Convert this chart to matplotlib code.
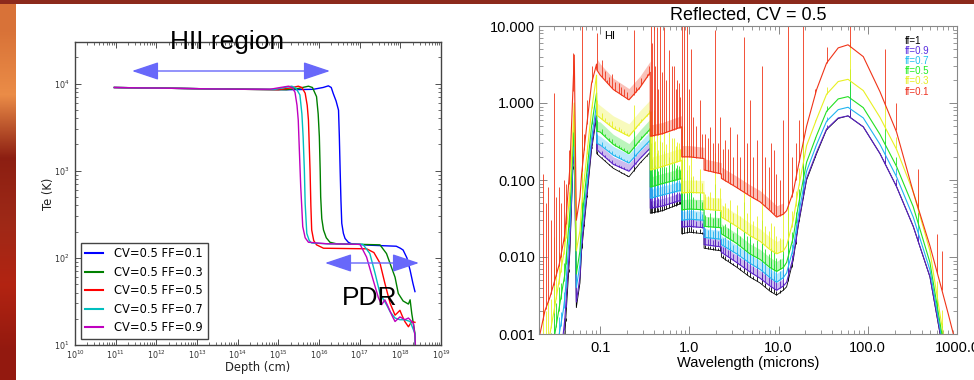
import numpy as np
import matplotlib
matplotlib.use("Agg")
import matplotlib.pyplot as plt
from matplotlib.patches import Rectangle, FancyArrowPatch, ArrowStyle
from matplotlib.ticker import LogLocator, FormatStrFormatter, NullFormatter

# ---------------- left panel: Te vs depth (CV=0.5) ----------------
ff01_depth = [9.3e10, 3.2e12, 1e14, 2.0e15, 7.2e15, 1.26e16, 1.7e16, 2.0e16, 2.24e16, 2.63e16,
              3.02e16, 3.16e16, 3.31e16, 3.47e16, 3.63e16, 3.98e16, 4.37e16, 5.25e16, 6.31e16,
              1.58e17, 7.94e17, 1e18, 1.17e18, 1.45e18, 1.74e18, 2.04e18, 2.29e18]
ff01_te = [9016, 8810, 8610, 8510, 8590, 9016, 9419, 9016, 7690, 6310,
           4955, 2512, 1016, 447, 249, 191, 167, 151, 145,
           140, 136, 129, 123, 100, 72, 51, 41]

ff03_depth = [9.3e10, 3.2e12, 1e14, 1.58e15, 3.16e15, 5.5e15, 6.9e15, 8.7e15, 9.55e15, 1.02e16,
              1.07e16, 1.10e16, 1.17e16, 1.29e16, 1.51e16, 1.86e16, 2.69e16, 1e17, 3.16e17,
              4.57e17, 7.41e17, 8.91e17, 1.17e18, 1.58e18, 1.74e18, 1.91e18, 2.29e18, 2.34e18]
ff03_te = [9016, 8810, 8610, 8510, 8810, 9333, 9016, 7080, 4467, 2455,
           1000, 501, 282, 209, 170, 151, 145, 143, 141,
           112, 60, 39, 32, 29.5, 33, 23, 13.5, 10]

ff05_depth = [9.3e10, 3.2e12, 1e14, 1e15, 2.0e15, 3.09e15, 3.8e15, 4.57e15, 5.13e15, 5.5e15,
              5.75e15, 6.03e15, 6.31e15, 6.61e15, 7.41e15, 8.71e15, 1.29e16, 1.48e17, 2.24e17,
              3.16e17, 4.17e17, 5.62e17, 7.41e17, 8.51e17, 9.77e17, 1.12e18, 1.29e18, 1.58e18,
              1.91e18, 2.29e18]
ff05_te = [9016, 8810, 8610, 8510, 8910, 9333, 9016, 7762, 5623, 3802,
           1995, 1000, 398, 209, 158, 141, 129, 127, 115,
           87, 51, 30, 22, 23.4, 25, 21.4, 18.6, 16.2,
           18.6, 18.2]

ff07_depth = [9.3e10, 3.2e12, 1e14, 7.9e14, 1.41e15, 2.14e15, 2.69e15, 3.39e15, 3.8e15, 4.07e15,
              4.37e15, 4.57e15, 5.01e15, 5.75e15, 6.61e15, 1.58e16, 1.2e17, 1.78e17, 2.4e17,
              3.16e17, 4.57e17, 5.62e17, 7.41e17, 9.77e17, 1.29e18, 1.74e18, 2.29e18, 2.34e18]
ff07_te = [9016, 8810, 8610, 8550, 9016, 9333, 8913, 7413, 4467, 2455,
           1000, 417, 191, 158, 148, 145, 143, 112, 66,
           39, 29, 24, 20.4, 19.5, 19.5, 18.6, 13.5, 9.5]

ff09_depth = [9.3e10, 3.2e12, 1e14, 6.3e14, 1.12e15, 1.78e15, 2.19e15, 2.57e15, 2.88e15, 3.09e15,
              3.31e15, 3.55e15, 3.8e15, 3.98e15, 4.57e15, 5.5e15, 1.58e16, 1.02e17, 1.48e17,
              2.14e17, 2.88e17, 3.47e17, 4.17e17, 5.01e17, 6.17e17, 7.41e17, 9.77e17, 1.29e18,
              1.58e18, 2.09e18, 2.29e18, 2.34e18]
ff09_te = [9016, 8810, 8610, 8610, 9016, 9333, 9016, 7943, 5623, 3802,
           1585, 661, 355, 229, 170, 151, 145, 143, 102,
           56, 35, 29, 33, 27.5, 22, 18.6, 21, 19.5,
           20.4, 17.8, 12.6, 10]

te_labels = ["CV=0.5 FF=0.1", "CV=0.5 FF=0.3", "CV=0.5 FF=0.5", "CV=0.5 FF=0.7", "CV=0.5 FF=0.9"]

# ---------------- right panel: reflected spectra ----------------
wl_grid = [0.020, 0.0211, 0.024, 0.0273, 0.031, 0.0347, 0.0385, 0.0402, 0.0458, 0.0512,
           0.054, 0.0593, 0.0619, 0.0705, 0.080, 0.0910, 0.0915, 0.10, 0.14, 0.21,
           0.28, 0.364, 0.3645, 0.50, 0.82, 0.8205, 1.0, 1.46, 1.4605, 2.28,
           2.285, 3.38, 4.76, 6.2, 8.0, 9.5, 11.3, 12.3, 14.6, 16.6,
           20.6, 26.7, 34.5, 46.6, 60, 89, 137, 210, 323, 497,
           645, 800, 1000]

flux_ff1 = [1e-5, 2e-5, 4e-5, 8e-5, 1.5e-4, 3e-4, 6e-4, 1.0e-3, 0.012, 0.45,
            0.0022, 0.0046, 0.012, 0.055, 0.245, 0.66, 0.22, 0.20, 0.142, 0.11,
            0.166, 0.23, 0.037, 0.040, 0.050, 0.020, 0.021, 0.020, 0.013, 0.012,
            0.010, 0.0074, 0.0055, 0.0046, 0.0036, 0.0032, 0.0037, 0.0041, 0.0091, 0.025,
            0.10, 0.22, 0.45, 0.63, 0.68, 0.49, 0.22, 0.082, 0.025, 0.0055,
            0.001, 0.0002, 3e-5]
flux_ff09 = [1.5e-5, 3e-5, 6e-5, 1.2e-4, 2.5e-4, 5e-4, 1.0e-3, 1.6e-3, 0.016, 0.5,
             0.0026, 0.0055, 0.014, 0.065, 0.28, 0.75, 0.25, 0.225, 0.16, 0.13,
             0.19, 0.26, 0.043, 0.046, 0.055, 0.0245, 0.025, 0.024, 0.0145, 0.0135,
             0.0115, 0.0085, 0.0064, 0.0053, 0.0042, 0.0037, 0.0042, 0.0047, 0.0100, 0.027,
             0.105, 0.23, 0.46, 0.64, 0.68, 0.49, 0.22, 0.082, 0.025, 0.0056,
             0.00105, 0.0002, 3e-5]
flux_ff07 = [3e-5, 5e-5, 1e-4, 2.2e-4, 4.5e-4, 1.0e-3, 2.0e-3, 3.0e-3, 0.025, 0.55,
             0.004, 0.008, 0.02, 0.085, 0.35, 0.95, 0.30, 0.285, 0.21, 0.166,
             0.24, 0.33, 0.058, 0.064, 0.074, 0.030, 0.031, 0.030, 0.018, 0.017,
             0.0145, 0.011, 0.0083, 0.0069, 0.0054, 0.0047, 0.0054, 0.0062, 0.013, 0.034,
             0.13, 0.29, 0.58, 0.82, 0.88, 0.64, 0.29, 0.11, 0.033, 0.0068,
             0.0012, 0.00025, 4e-5]
flux_ff05 = [6e-5, 1e-4, 2e-4, 4.5e-4, 1.0e-3, 2.2e-3, 4.5e-3, 6e-3, 0.04, 0.7,
             0.006, 0.012, 0.028, 0.12, 0.5, 1.35, 0.43, 0.42, 0.29, 0.22,
             0.33, 0.46, 0.081, 0.09, 0.105, 0.041, 0.042, 0.041, 0.025, 0.024,
             0.020, 0.015, 0.011, 0.0093, 0.0073, 0.0065, 0.0073, 0.0085, 0.018, 0.046,
             0.17, 0.38, 0.78, 1.13, 1.21, 0.87, 0.39, 0.15, 0.045, 0.0085,
             0.0014, 0.0003, 5e-5]
flux_ff03 = [1.5e-4, 2.5e-4, 5e-4, 1.0e-3, 2.3e-3, 5e-3, 0.01, 0.014, 0.07, 1.0,
             0.012, 0.022, 0.048, 0.2, 0.8, 2.3, 0.7, 0.64, 0.47, 0.37,
             0.55, 0.76, 0.135, 0.15, 0.18, 0.068, 0.069, 0.068, 0.042, 0.040,
             0.033, 0.025, 0.019, 0.016, 0.0125, 0.011, 0.012, 0.014, 0.03, 0.075,
             0.28, 0.62, 1.3, 1.9, 2.03, 1.45, 0.65, 0.25, 0.07, 0.012,
             0.0018, 0.0004, 8e-5]
flux_ff01 = [8e-4, 1.0e-3, 2e-3, 3e-3, 5e-3, 8e-3, 0.015, 0.02, 0.15, 4.2,
             0.03, 0.06, 0.12, 0.5, 1.8, 3.2, 2.7, 2.3, 1.5, 1.1,
             1.6, 2.5, 0.37, 0.40, 0.49, 0.20, 0.20, 0.19, 0.135, 0.12,
             0.105, 0.08, 0.062, 0.052, 0.04, 0.033, 0.036, 0.04, 0.07, 0.15,
             0.5, 1.5, 3.3, 5.2, 5.7, 4.0, 1.4, 0.42, 0.07, 0.014,
             0.0046, 0.0018, 0.00065]

# emission lines: wavelength (microns) and peak of the ff=0.1 spike
line_um = [0.0228, 0.0245, 0.026, 0.028, 0.030, 0.032, 0.0342, 0.036, 0.0389, 0.041,
           0.0443, 0.047, 0.0494, 0.0624, 0.066, 0.071, 0.076, 0.0807, 0.0918,
           0.1045, 0.112, 0.119, 0.127, 0.135, 0.148, 0.161, 0.172, 0.183, 0.20,
           0.237, 0.25, 0.269, 0.29, 0.307, 0.334, 0.35,
           0.371, 0.385, 0.397, 0.41, 0.432, 0.45, 0.471, 0.49, 0.514, 0.55,
           0.585, 0.63, 0.665, 0.70, 0.73, 0.757, 0.78, 0.824,
           0.86, 0.937, 1.0, 1.04, 1.11, 1.2, 1.32, 1.40, 1.50, 1.6,
           1.71, 1.82, 1.95, 2.08, 2.22, 2.35, 2.52, 2.7, 2.87, 3.1,
           3.41, 3.7, 4.06, 4.4, 4.81, 5.2, 5.71, 6.5, 7.0, 7.72,
           8.2, 8.79, 9.3, 10.4, 11.3, 12.8, 14.0, 15.5, 17.0, 18.9,
           25.9, 34.8, 63.5, 157, 205, 370, 600, 678]
line_peak = [0.12, 0.05, 0.08, 0.03, 1.34, 0.06, 0.082, 0.05, 0.1, 0.09,
             0.245, 0.3, 4.4, 30, 0.4, 1.1, 0.9, 3.0, 8.0,
             3.6, 2.6, 2.0, 2.2, 2.4, 1.9, 1.8, 1.6, 1.5, 1.4,
             8.9, 1.6, 1.6, 2.1, 1.8, 2.4, 3.0,
             30, 6.0, 30, 3.0, 9.8, 1.5, 30, 2.5, 9.8, 2.0,
             4.9, 3.0, 3.0, 1.5, 2.0, 1.8, 1.2, 30,
             30, 10, 1.5, 5.0, 0.66, 0.5, 1.1, 0.4, 0.4, 0.35,
             0.49, 0.3, 8.9, 0.3, 0.66, 0.25, 0.33, 0.25, 0.49, 0.2,
             0.4, 0.2, 7.3, 0.3, 1.1, 0.2, 0.33, 3.0, 0.2, 0.149,
             0.3, 0.245, 0.12, 0.1, 0.6, 30, 0.2, 0.3, 0.6, 30,
             1.5, 5.4, 100, 5.1, 1.0, 0.14, 0.02, 0.012]

ff_labels = ["ff=1", "ff=0.9", "ff=0.7", "ff=0.5", "ff=0.3", "ff=0.1"]

plt.rcParams['font.family'] = ['DejaVu Sans']
fig = plt.figure(figsize=(9.74, 3.8), dpi=100)
fig.patch.set_facecolor("#902818")

# slide background: nebula strip on the left, white page
bg = fig.add_axes([0, 0, 1, 1], zorder=-10)
bg.axis('off')
strip = np.array([[[0.85, 0.45, 0.22]], [[0.92, 0.55, 0.28]], [[0.55, 0.12, 0.07]],
                  [[0.62, 0.16, 0.09]], [[0.70, 0.14, 0.07]], [[0.58, 0.10, 0.06]]])
bg.imshow(strip, extent=(0, 16, 380, 0), aspect='auto', interpolation='bilinear')
bg.add_patch(Rectangle((0, 0), 974, 4, color="#8c2a1c", lw=0))
bg.add_patch(Rectangle((16, 4), 958, 376, color="white", lw=0))
bg.set_xlim(0, 974)
bg.set_ylim(380, 0)

# ---- left axes ----
axl = fig.add_axes([75 / 974, 1 - 345 / 380, 366 / 974, 303 / 380])
te_series = [(ff01_depth, ff01_te, 'b'), (ff03_depth, ff03_te, 'g'), (ff05_depth, ff05_te, 'r'),
             (ff07_depth, ff07_te, 'c'), (ff09_depth, ff09_te, 'm')]
for (d, t, c), lab in zip(te_series, te_labels):
    axl.plot(d, t, color=c, lw=1.0, label=lab)
axl.set_xscale('log')
axl.set_yscale('log')
axl.set_xlim(1e10, 1e19)
axl.set_ylim(10, 3e4)
axl.xaxis.set_major_locator(LogLocator(base=10, numticks=15))
axl.xaxis.set_minor_locator(LogLocator(base=10, subs=np.arange(2, 10), numticks=100))
axl.xaxis.set_minor_formatter(NullFormatter())
axl.tick_params(which='both', direction='in', top=True, right=True, labelsize=5.8, colors='#333')
axl.tick_params(which='major', length=4, width=0.6)
axl.tick_params(which='minor', length=2, width=0.5)
axl.tick_params(axis='x', pad=2.5)
axl.tick_params(axis='y', pad=4)
for sp in axl.spines.values():
    sp.set_color('#444')
    sp.set_linewidth(1.0)
leg = axl.legend(loc='lower left', bbox_to_anchor=(0.016, 0.02), borderaxespad=0, fontsize=8.3,
                 handlelength=1.5, handletextpad=1.0, labelspacing=0.48, borderpad=0.4,
                 fancybox=False, framealpha=1, edgecolor='#444')
leg.get_frame().set_linewidth(1.0)
for h in leg.get_lines():
    h.set_linewidth(1.5)

# ---- right axes ----
axr = fig.add_axes([539 / 974, 1 - 334 / 380, 418 / 974, 308 / 380])
grid = np.array(wl_grid)
lines = np.array(line_um)
spec = [(flux_ff1, 'black', 0.08, 1.0), (flux_ff09, '#5a22c8', 0.2, 1.25),
        (flux_ff07, '#20b4f0', 0.25, 1.3), (flux_ff05, '#22e022', 0.3, 1.35),
        (flux_ff03, '#e8f022', 0.4, 1.45), (flux_ff01, '#f03418', 1.0, 1.4)]
red_base = 10 ** np.interp(np.log10(lines), np.log10(grid), np.log10(flux_ff01))
ratio = np.clip(np.array(line_peak) / red_base, 1, None)
band = (grid >= 0.0915) & (grid <= 11.3)
for flux, c, expo, bw in spec:
    f = np.array(flux)
    base = 10 ** np.interp(np.log10(lines), np.log10(grid), np.log10(f))
    if bw > 1:
        axr.fill_between(grid[band], f[band], f[band] * bw, color=c, alpha=0.3, lw=0)
    axr.vlines(lines, base, base * ratio ** expo, colors=c, lw=0.6)
    axr.plot(grid, f, color=c, lw=0.8 if c != 'black' else 0.6)
axr.set_xscale('log')
axr.set_yscale('log')
axr.set_xlim(0.0206, 1000)
axr.set_ylim(1e-3, 10)
axr.xaxis.set_major_formatter(FormatStrFormatter('%.1f'))
axr.yaxis.set_major_formatter(FormatStrFormatter('%.3f'))
axr.xaxis.set_minor_formatter(NullFormatter())
axr.yaxis.set_minor_formatter(NullFormatter())
axr.tick_params(which='both', direction='in', top=True, right=True, color='#888',
                labelsize=10.5, labelcolor='black')
axr.tick_params(which='major', length=5.5, width=0.7)
axr.tick_params(which='minor', length=2.8, width=0.6)
axr.tick_params(axis='x', pad=5)
axr.tick_params(axis='y', pad=3)
for lab in axr.get_xticklabels() + axr.get_yticklabels():
    lab.set_fontfamily('Liberation Sans')
for sp in axr.spines.values():
    sp.set_color('#888')
    sp.set_linewidth(0.8)

# ---- overlay: annotations in pixel coordinates ----
ov = fig.add_axes([0, 0, 1, 1], zorder=5)
ov.set_xlim(0, 974)
ov.set_ylim(380, 0)
ov.axis('off')
ov.patch.set_alpha(0)

arrow_col = '#6868fa'
for x0, x1, y in [(132, 330, 71), (325, 419, 263)]:
    ov.add_patch(FancyArrowPatch((x0, y), (x1, y),
                                 arrowstyle=ArrowStyle('<|-|>', head_length=16.7, head_width=5.6),
                                 mutation_scale=1, color=arrow_col, lw=1.0, shrinkA=0, shrinkB=0))

ov.text(170, 49.5, "HII region", fontsize=19, family='Liberation Sans', ha='left', va='baseline')
ov.text(342, 305, "PDR", fontsize=19, family='Liberation Sans', ha='left', va='baseline')
ov.text(258, 368, "Depth (cm)", fontsize=8.3, ha='center', va='center', color='#222')
ov.text(48.5, 193.5, "Te (K)", fontsize=8.3, ha='center', va='center', rotation=90, color='#222')

ov.text(748, 19.5, "Reflected, CV = 0.5", fontsize=13, family='Liberation Sans',
        ha='center', va='baseline')
ov.text(748, 363, "Wavelength (microns)", fontsize=10.5, family='Liberation Sans',
        ha='center', va='center')
ov.text(604, 39, "HI", fontsize=8, family='Liberation Sans', ha='left', va='baseline')
ff_cols = ['black', '#5a2ee0', '#22c0f0', '#22ee22', '#e6ee22', '#ee3322']
for i, (lab, c) in enumerate(zip(ff_labels, ff_cols)):
    ov.text(905, 40.7 + 10.2 * i, lab, fontsize=7, family='Liberation Sans', color=c,
            ha='left', va='center')

fig.savefig("out.png", dpi=100, facecolor=fig.get_facecolor())
